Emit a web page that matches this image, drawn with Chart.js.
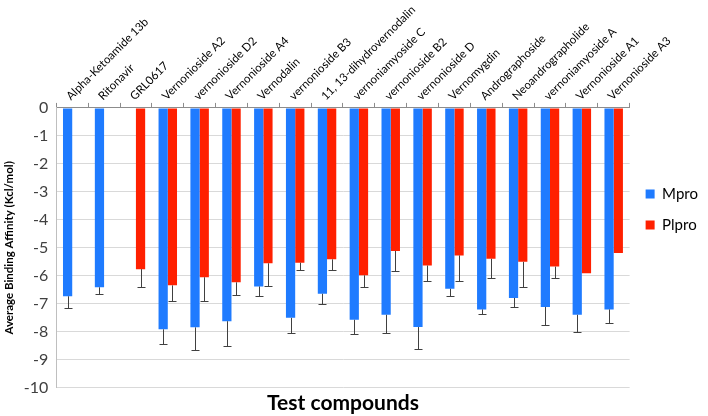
<!DOCTYPE html>
<html>
<head>
<meta charset="utf-8">
<script src="https://cdn.jsdelivr.net/npm/chart.js@4.4.0/dist/chart.umd.min.js"></script>
<style>
  html, body { margin: 0; padding: 0; background: #fff; }
  #wrap { width: 708px; height: 416px; }
</style>
</head>
<body>
<div id="wrap"><canvas id="myChart"></canvas></div>
<script>
const compounds = ["Alpha-Ketoamide 13b", "Ritonavir", "GRL0617", "Vernonioside A2", "vernonioside D2",
  "Vernonioside A4", "Vernodalin", "vernonioside B3", "11, 13-dihydrovernodalin", "vernoniamyoside C",
  "vernonioside B2", "vernonioside D", "Vernomygdin", "Andrographoside", "Neoandrographolide",
  "vernoniamyoside A", "Vernonioside A1", "Vernonioside A3"];

const mproValues = [-6.73, -6.41, null, -7.91, -7.84, -7.62, -6.38, -7.5, -6.64, -7.57, -7.39, -7.83, -6.46, -7.2, -6.79, -7.11, -7.39, -7.2];
const mproErrors = [0.42, 0.25, null, 0.54, 0.81, 0.88, 0.35, 0.53, 0.36, 0.5, 0.66, 0.8, 0.27, 0.15, 0.31, 0.66, 0.63, 0.5];

const plproValues = [null, null, -5.76, -6.34, -6.05, -6.23, -5.55, -5.53, -5.41, -5.98, -5.11, -5.63, -5.27, -5.39, -5.5, -5.67, -5.91, -5.18];
const plproErrors = [null, null, 0.65, 0.57, 0.84, 0.47, 0.81, 0.27, 0.39, 0.43, 0.7, 0.54, 0.91, 0.69, 0.91, 0.41, 0, 0];

const yTicks = [0, -1, -2, -3, -4, -5, -6, -7, -8, -9, -10];

const errorLists = [mproErrors, plproErrors];

// draws the downward error whiskers on each bar
const errorBars = {
  id: 'errorBars',
  afterDatasetsDraw(chart) {
    const ctx = chart.ctx;
    const yScale = chart.scales.y;
    ctx.save();
    ctx.strokeStyle = '#404040';
    ctx.lineWidth = 1;
    chart.data.datasets.forEach(function (ds, i) {
      const meta = chart.getDatasetMeta(i);
      meta.data.forEach(function (bar, j) {
        const v = ds.data[j];
        const e = errorLists[i][j];
        if (v == null || !e) return;
        const x = Math.round(bar.x) + 0.5;
        const y1 = bar.y;
        const y2 = Math.round(yScale.getPixelForValue(v - e)) + 0.5;
        ctx.beginPath();
        ctx.moveTo(x, y1);
        ctx.lineTo(x, y2);
        ctx.moveTo(x - 4, y2);
        ctx.lineTo(x + 4, y2);
        ctx.stroke();
      });
    });
    ctx.restore();
  }
};

new Chart("myChart", {
  type: "bar",
  data: {
    labels: compounds,
    datasets: [{
      label: "Mpro",
      backgroundColor: "#1f7bff",
      data: mproValues
    }, {
      label: "Plpro",
      backgroundColor: "#ff2000",
      data: plproValues
    }]
  },
  plugins: [errorBars],
  options: {
    responsive: true,
    maintainAspectRatio: false,
    animation: false,
    layout: { padding: { top: 3, right: 0, left: 0, bottom: 0 } },
    datasets: {
      bar: { barPercentage: 1, categoryPercentage: 0.58 }
    },
    plugins: {
      tooltip: { enabled: false },
      legend: {
        position: 'right',
        labels: {
          boxWidth: 9,
          boxHeight: 9,
          padding: 16,
          color: '#000',
          font: { family: 'Lato', size: 15 }
        }
      }
    },
    scales: {
      x: {
        position: 'top',
        ticks: {
          maxRotation: 45,
          minRotation: 45,
          autoSkip: false,
          color: '#000',
          padding: 0,
          labelOffset: 6,
          font: { family: 'Lato', size: 11.5 }
        },
        grid: {
          offset: true,
          drawOnChartArea: false,
          tickLength: 5,
          color: '#8c8c8c'
        },
        border: { color: '#8c8c8c', width: 1 }
      },
      x2: {
        position: 'bottom',
        labels: compounds,
        ticks: { display: false, padding: 0 },
        grid: { display: false, drawTicks: false },
        border: { display: false },
        title: {
          display: true,
          text: 'Test compounds',
          color: '#000',
          padding: { top: 3, bottom: 0 },
          font: { family: 'Lato', size: 21, weight: 'bold' }
        }
      },
      y: {
        min: -10,
        max: 0,
        afterBuildTicks: function (axis) {
          axis.ticks = yTicks.map(function (v) { return { value: v }; });
        },
        ticks: {
          color: '#404040',
          padding: 8,
          font: { family: 'Lato', size: 16 }
        },
        grid: {
          color: '#d9d9d9',
          drawTicks: false
        },
        border: { color: '#bfbfbf', width: 1 },
        title: {
          display: true,
          text: 'Average Binding Affinity (Kcl/mol)',
          color: '#000',
          padding: { top: 2, bottom: 0 },
          font: { family: 'Lato', size: 11.5, weight: 'bold' }
        }
      }
    }
  }
});
</script>
</body>
</html>
